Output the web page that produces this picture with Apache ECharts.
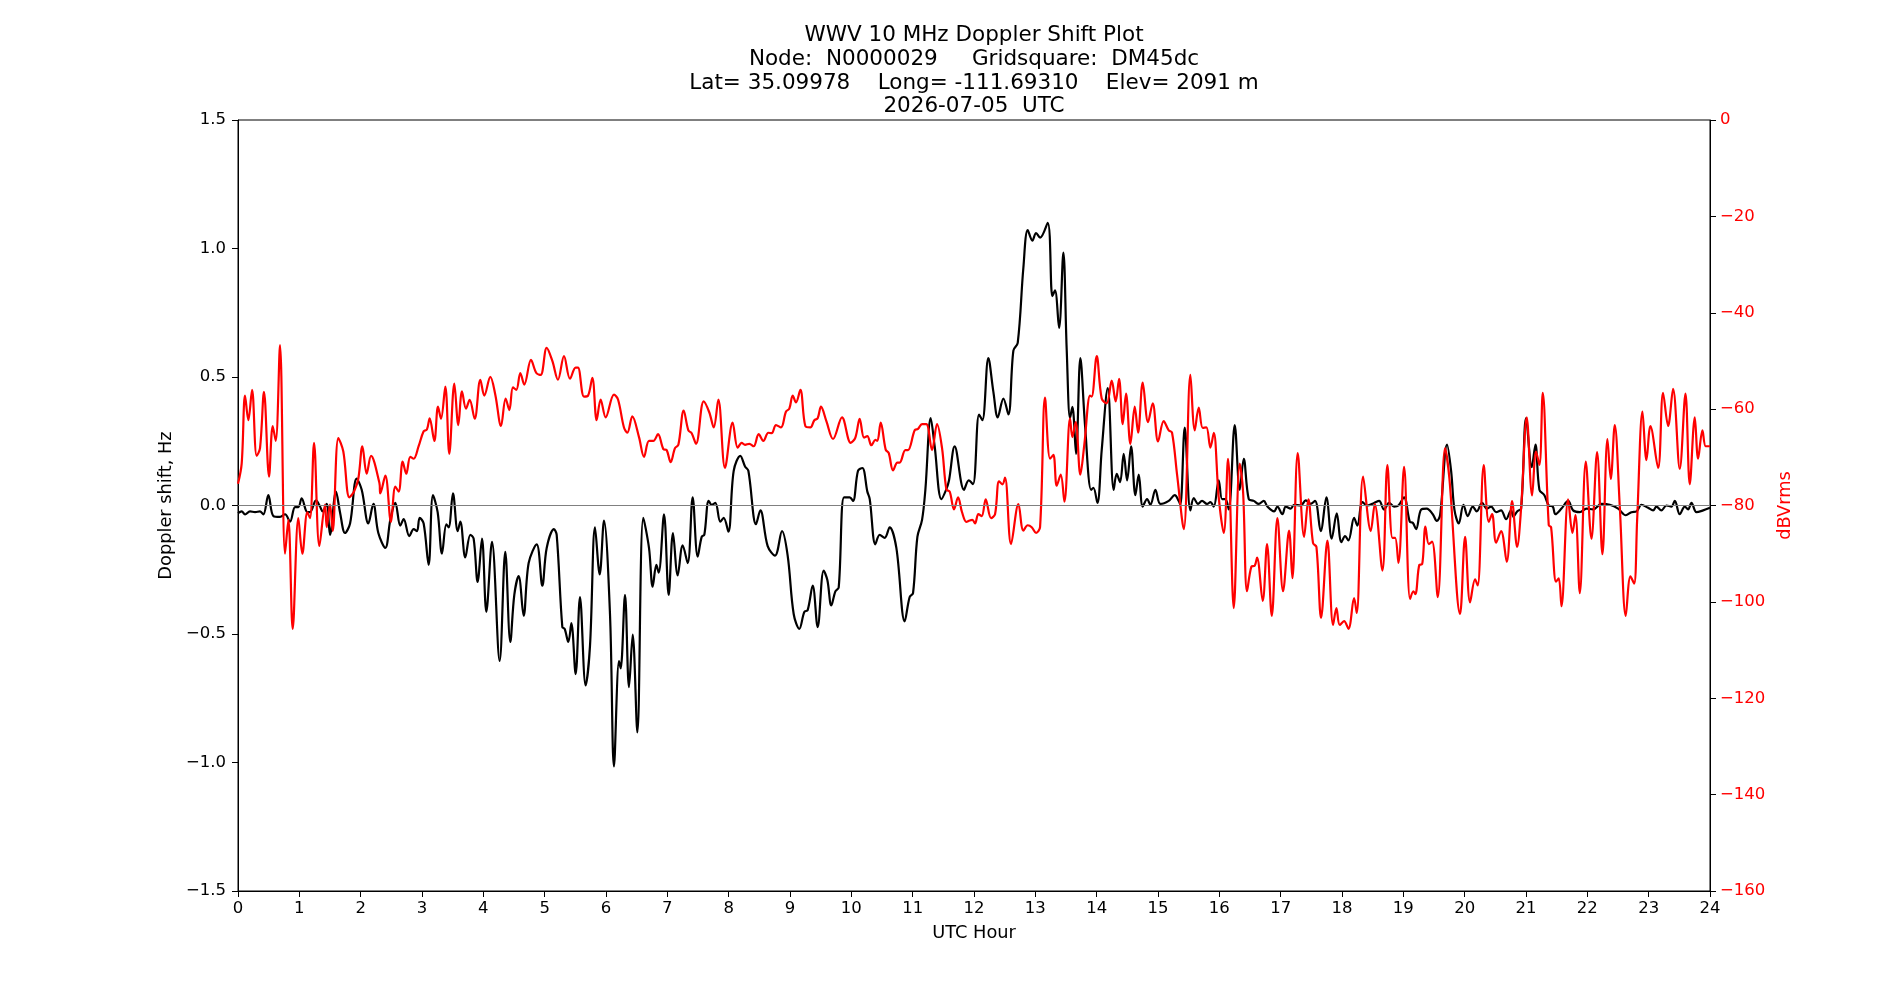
<!DOCTYPE html>
<html><head><meta charset="utf-8">
<script src="https://cdn.jsdelivr.net/npm/echarts@6/dist/echarts.min.js"></script>
<style>html,body{margin:0;padding:0;background:#fff}#c{width:1900px;height:1000px}</style>
</head><body><div id="c"></div>
<script>
const titleLines = ['WWV 10 MHz Doppler Shift Plot','Node:  N0000029     Gridsquare:  DM45dc','Lat= 35.09978    Long= -111.69310    Elev= 2091 m','2026-07-05  UTC'];

const dopplerHours = [0.0,0.06,0.115,0.196,0.278,0.359,0.413,0.495,0.577,0.685,0.767,0.848,0.93,0.984,1.038,1.131,1.174,1.272,1.337,1.38,1.446,1.50,1.598,1.663,1.745,1.827,1.935,2.017,2.125,2.207,2.288,
2.402,2.483,2.565,2.646,2.701,2.793,2.864,2.918,2.962,3.027,3.108,3.179,3.255,3.326,3.397,3.435,3.505,3.582,3.625,3.706,3.788,3.842,3.907,3.978,4.049,4.141,4.266,4.358,4.44,4.505,4.576,4.657,4.739,
4.87,4.962,5.033,5.152,5.196,5.288,5.326,5.386,5.435,5.505,5.576,5.668,5.739,5.821,5.897,5.967,6.065,6.13,6.212,6.239,6.31,6.375,6.435,6.511,6.608,6.701,6.761,6.821,6.859,6.946,7.022,7.092,
7.169,7.25,7.332,7.413,7.495,7.56,7.603,7.674,7.723,7.783,7.864,7.919,7.995,8.082,8.19,8.267,8.321,8.446,8.517,8.636,8.756,8.87,8.962,9.06,9.152,9.234,9.288,9.37,9.451,9.549,
9.609,9.674,9.74,9.794,9.881,9.973,10.028,10.109,10.18,10.261,10.3,10.392,10.462,10.544,10.625,10.734,10.87,10.951,11.006,11.077,11.153,11.207,11.294,11.359,11.468,11.55,11.593,11.685,11.837,11.914,11.984,
12.082,12.137,12.234,12.316,12.387,12.479,12.561,12.642,12.713,12.805,12.876,12.952,13.012,13.077,13.202,13.278,13.321,13.387,13.457,13.512,13.566,13.604,13.664,13.734,13.811,13.909,13.946,14.012,14.082,14.18,14.278,14.327,14.381,
14.441,14.496,14.561,14.631,14.686,14.751,14.822,14.876,14.958,15.039,15.175,15.273,15.338,15.365,15.436,15.528,15.583,15.653,15.718,15.8,15.854,15.909,15.99,16.045,16.099,16.153,16.251,16.333,16.398,16.479,16.561,16.642,16.724,
16.784,16.893,16.947,17.028,17.083,17.164,17.219,17.327,17.409,17.49,17.561,17.653,17.746,17.833,17.914,17.99,18.05,18.105,18.197,18.251,18.333,18.414,18.523,18.605,18.686,18.768,18.849,18.92,19.012,19.105,
19.154,19.208,19.29,19.382,19.48,19.545,19.599,19.713,19.779,19.833,19.904,19.98,20.05,20.132,20.197,20.284,20.36,20.431,20.512,20.594,20.675,20.757,20.795,20.855,20.92,21.002,21.094,21.154,21.219,21.3,21.371,21.436,21.48,
21.578,21.687,21.768,21.877,21.985,22.094,22.23,22.366,22.502,22.627,22.719,22.801,22.882,22.991,23.072,23.127,23.208,23.29,23.371,23.426,23.507,23.589,23.643,23.698,23.779,23.888,24.0];

const dopplerHz = [-0.03,-0.023,-0.035,-0.023,-0.026,-0.023,-0.035,0.040,-0.041,-0.044,-0.034,-0.063,-0.006,-0.006,0.028,-0.026,-0.026,0.020,-0.004,-0.023,0.006,-0.114,0.054,-0.026,-0.107,-0.070,0.105,0.061,-0.070,0.006,-0.107,
-0.165,-0.056,0.010,-0.078,-0.053,-0.119,-0.092,-0.10,-0.048,-0.070,-0.231,0.040,-0.026,-0.187,-0.073,-0.085,0.047,-0.10,-0.063,-0.202,-0.114,-0.129,-0.297,-0.129,-0.414,-0.141,-0.605,-0.180,-0.531,-0.348,-0.275,-0.429,-0.224,
-0.151,-0.312,-0.165,-0.092,-0.114,-0.473,-0.48,-0.531,-0.458,-0.656,-0.356,-0.70,-0.546,-0.085,-0.268,-0.059,-0.422,-1.015,-0.605,-0.634,-0.348,-0.707,-0.502,-0.883,-0.048,-0.165,-0.316,-0.231,-0.261,-0.034,-0.348,-0.107,
-0.272,-0.155,-0.224,0.032,-0.199,-0.122,-0.114,0.018,0.003,0.010,-0.063,-0.048,-0.102,0.135,0.193,0.152,0.135,-0.073,-0.019,-0.158,-0.195,-0.10,-0.195,-0.422,-0.48,-0.414,-0.407,-0.312,-0.473,-0.253,
-0.29,-0.389,-0.334,-0.319,0.032,0.032,0.018,0.135,0.146,0.054,0.025,-0.151,-0.114,-0.126,-0.085,-0.165,-0.451,-0.356,-0.341,-0.122,-0.056,0.061,0.340,0.230,0.025,0.064,0.098,0.230,0.061,0.098,0.083,
0.354,0.332,0.574,0.442,0.343,0.416,0.354,0.603,0.633,0.925,1.072,1.031,1.06,1.042,1.10,0.815,0.837,0.691,0.984,0.603,0.340,0.384,0.201,0.574,0.31,0.061,0.069,0.010,0.215,0.457,0.061,0.123,0.091,
0.201,0.098,0.230,0.040,0.12,-0.004,0.025,0.003,0.061,0.006,0.018,0.040,0.018,0.003,0.303,-0.019,0.029,0.006,0.018,0.006,0.013,-0.004,0.098,0.025,0.025,-0.015,0.313,0.061,0.182,0.025,0.018,0.006,0.018,
-0.004,-0.023,-0.004,-0.034,-0.004,-0.012,0.003,0,0.020,0.006,0.018,-0.10,0.032,-0.129,-0.031,-0.143,-0.119,-0.136,-0.048,-0.078,0.013,0,0.010,0.018,-0.016,0.010,-0.004,0,0.032,-0.063,
-0.067,-0.092,-0.016,-0.012,-0.034,-0.06,-0.038,0.237,0.135,-0.016,-0.070,0.003,-0.041,-0.004,-0.023,0.010,-0.012,-0.004,-0.026,-0.019,-0.053,-0.019,-0.044,-0.023,-0.012,0.340,0.149,0.237,0.061,0.040,0,-0.004,-0.034,
-0.012,0.018,-0.019,-0.026,-0.012,-0.015,0.006,0.003,-0.012,-0.038,-0.026,-0.023,0.003,-0.009,-0.019,-0.004,-0.019,0,-0.004,0.018,-0.034,-0.004,-0.015,0.010,-0.026,-0.019,-0.009];

const powerHours = [0.0,0.06,0.115,0.169,0.229,0.305,0.359,0.424,0.506,0.566,0.615,0.685,0.767,0.821,0.892,0.984,1.049,1.131,1.174,1.24,1.327,1.419,1.446,1.50,1.544,1.636,1.717,1.816,1.892,1.962,2.028,2.098,2.169,2.305,
2.32,2.402,2.494,2.565,2.619,2.685,2.744,2.809,2.864,2.945,3.027,3.081,3.125,3.201,3.261,3.31,3.38,3.445,3.527,3.592,3.652,3.717,3.777,3.859,3.951,4.016,4.114,4.195,4.288,4.364,4.424,4.483,4.538,4.603,4.668,4.777,
4.864,4.935,5.033,5.125,5.217,5.315,5.413,5.505,5.543,5.641,5.707,5.777,5.848,5.913,5.995,6.13,6.196,6.293,6.348,6.429,6.538,6.62,6.701,6.772,6.848,6.935,6.989,7.054,
7.125,7.18,7.267,7.343,7.397,7.468,7.593,7.685,7.756,7.832,7.94,8.065,8.147,8.212,8.267,8.337,8.408,8.489,8.565,8.647,8.701,8.772,8.853,8.935,8.989,9.044,9.098,9.169,9.25,9.332,9.397,9.451,9.505,
9.593,9.702,9.848,9.99,10.066,10.136,10.207,10.261,10.327,10.392,10.424,10.479,10.56,10.609,10.68,10.751,10.788,10.881,10.924,11.033,11.087,11.153,11.223,11.316,11.397,11.479,11.55,11.604,11.674,11.74,11.805,11.876,11.93,
11.974,12.017,12.071,12.126,12.191,12.278,12.343,12.408,12.463,12.506,12.604,12.724,12.805,12.876,12.941,13.012,13.077,13.158,13.24,13.294,13.349,13.414,13.474,13.566,13.604,13.658,13.734,13.8,13.892,13.919,14.001,14.082,14.164,14.245,14.31,14.365,
14.425,14.479,14.55,14.621,14.675,14.751,14.838,14.914,15.001,15.093,15.175,15.229,15.311,15.42,15.528,15.599,15.664,15.729,15.789,15.854,15.909,15.99,16.072,16.142,16.235,16.333,16.387,16.452,16.523,16.577,16.615,16.707,16.778,
16.855,16.947,17.039,17.137,17.191,17.278,17.382,17.452,17.528,17.583,17.659,17.762,17.855,17.909,17.963,18.034,18.105,18.197,18.24,18.344,18.469,18.534,18.659,18.74,18.822,18.866,18.92,19.012,
19.11,19.165,19.197,19.262,19.306,19.36,19.415,19.469,19.561,19.681,19.751,19.925,20.007,20.088,20.17,20.213,20.311,20.393,20.447,20.512,20.594,20.686,20.773,20.855,20.92,21.012,21.099,21.164,21.219,21.273,21.371,21.409,21.49,21.534,
21.578,21.687,21.757,21.806,21.877,21.975,22.067,22.159,22.246,22.328,22.382,22.447,22.529,22.627,22.703,22.763,22.812,22.899,22.964,23.029,23.154,23.235,23.317,23.398,23.507,23.6,23.67,23.752,23.806,23.877,23.931,24.0];

const powerDb = [-75.5,-71.3,-57.2,-62.3,-56.0,-69.7,-68.1,-56.4,-74.0,-63.5,-66.6,-46.7,-90.0,-83.0,-105.6,-82.6,-90.0,-81.4,-82.6,-67.0,-88.4,-79.8,-84.5,-79.8,-85.3,-66.0,-68.8,-78.3,-77.1,-74.4,-67.7,-73.4,-69.7,-75.3,
-77.5,-73.8,-83.4,-76.1,-77.1,-70.9,-73.4,-69.9,-70.3,-67.7,-64.6,-64.2,-61.9,-66.6,-59.5,-62.0,-55.3,-69.3,-54.7,-63.3,-56.3,-59.9,-58.1,-62.0,-53.9,-57.2,-53.3,-57.0,-63.5,-57.8,-60.2,-55.5,-56.0,-52.5,-54.9,-49.8,
-52.5,-52.9,-47.3,-50.0,-53.9,-49.0,-53.7,-51.4,-51.4,-57.4,-57.2,-53.5,-62.3,-58.0,-61.7,-57.0,-58.0,-63.8,-64.9,-61.5,-65.8,-69.9,-66.6,-66.6,-65.2,-68.3,-68.5,-71.0,
-68.1,-67.4,-60.3,-64.4,-65.0,-67.2,-58.4,-60.7,-63.8,-58.0,-72.2,-62.8,-68.0,-67.0,-67.4,-67.2,-67.7,-65.2,-66.6,-64.9,-65.0,-63.3,-63.8,-60.5,-59.9,-57.2,-58.6,-56.0,-63.5,-63.8,-62.3,-61.9,-59.5,
-62.5,-66.2,-61.7,-67.0,-65.9,-62.0,-65.9,-65.6,-67.5,-66.4,-66.6,-62.8,-68.4,-69.1,-72.7,-71.1,-71.1,-68.5,-68.5,-64.4,-64.1,-63.1,-63.1,-68.5,-63.1,-68.1,-76.7,-77.1,-80.8,-78.3,-81.4,-83.4,-83.1,
-83.0,-83.7,-81.8,-82.2,-78.7,-82.6,-81.8,-75.0,-75.6,-74.2,-88.0,-79.7,-85.2,-84.1,-84.5,-85.7,-84.5,-57.6,-70.3,-69.5,-75.9,-73.6,-79.2,-61.9,-65.8,-62.7,-73.6,-67.2,-57.2,-57.4,-49.0,-57.8,-58.8,-54.1,-58.4,-53.7,
-63.1,-56.8,-67.2,-59.5,-64.9,-54.5,-62.7,-58.8,-66.7,-62.5,-64.4,-64.9,-73.6,-84.9,-52.9,-64.4,-59.7,-63.9,-63.8,-68.0,-64.9,-78.3,-85.7,-70.3,-101.3,-71.3,-77.1,-97.8,-92.7,-92.5,-90.8,-99.8,-88.0,
-102.9,-82.6,-97.8,-85.2,-95.1,-69.1,-86.5,-78.7,-87.8,-88.6,-103.3,-87.3,-104.8,-101.3,-104.8,-104.0,-105.6,-99.2,-102.3,-74.0,-85.3,-79.7,-93.5,-71.6,-86.7,-86.7,-91.9,-72.0,
-99.4,-97.8,-98.4,-92.3,-92.2,-84.4,-88.0,-87.5,-99.0,-68.1,-74.4,-102.5,-86.5,-100.1,-95.3,-96.6,-71.6,-83.4,-81.8,-87.7,-85.3,-91.7,-79.1,-88.6,-80.6,-61.7,-77.9,-68.8,-71.6,-56.6,-84.1,-84.5,-95.8,-95.1,
-100.9,-78.7,-85.7,-82.0,-98.2,-70.9,-86.9,-68.9,-90.1,-66.2,-74.5,-63.3,-80.2,-102.9,-94.7,-96.2,-83.0,-60.5,-70.6,-63.5,-72.2,-56.6,-63.5,-55.8,-72.4,-56.8,-75.6,-61.7,-70.3,-64.4,-67.7,-67.7];

const FONT = 'DejaVu Sans';
const minusFmt = (v, d) => (v < 0 ? '\u2212' : '') + Math.abs(v).toFixed(d);
const zip = (xs, ys) => xs.map((x, i) => [x, ys[i]]);

const chart = echarts.init(document.getElementById('c'), null, {renderer: 'canvas'});
chart.setOption({
  animation: false,
  backgroundColor: '#ffffff',
  textStyle: {fontFamily: FONT},
  title: {
    text: titleLines.join('\n'),
    left: 974, top: 24, padding: 0, textAlign: 'center',
    textStyle: {fontFamily: FONT, fontSize: 21.5, fontWeight: 'normal', color: '#000', lineHeight: 23.6}
  },
  grid: {left: 238, right: 190, top: 120, bottom: 109, show: true, borderColor: '#000', borderWidth: 1, backgroundColor: 'transparent'},
  xAxis: {
    type: 'value', min: 0, max: 24, interval: 1,
    name: 'UTC Hour', nameLocation: 'middle', nameGap: 33,
    nameTextStyle: {fontFamily: FONT, fontSize: 17.8, color: '#000'},
    axisLine: {show: true, onZero: false, lineStyle: {color: '#000', width: 1}},
    axisTick: {show: true, length: 6, lineStyle: {color: '#000', width: 1}},
    axisLabel: {fontFamily: FONT, fontSize: 16.5, color: '#000', margin: 9},
    splitLine: {show: false}
  },
  yAxis: [{
    type: 'value', min: -1.5, max: 1.5, interval: 0.5, position: 'left',
    name: 'Doppler shift, Hz', nameLocation: 'middle', nameRotate: 90, nameGap: 60,
    nameTextStyle: {fontFamily: FONT, fontSize: 17.8, color: '#000'},
    axisLine: {show: true, onZero: false, lineStyle: {color: '#000', width: 1}},
    axisTick: {show: true, length: 6, lineStyle: {color: '#000', width: 1}},
    axisLabel: {fontFamily: FONT, fontSize: 16.5, color: '#000', margin: 12, formatter: v => minusFmt(v, 1)},
    splitLine: {show: false}
  }, {
    type: 'value', min: -160, max: 0, interval: 20, position: 'right',
    name: 'dBVrms', nameLocation: 'middle', nameRotate: 90, nameGap: 62,
    nameTextStyle: {fontFamily: FONT, fontSize: 17.8, color: '#ff0000'},
    axisLine: {show: true, onZero: false, lineStyle: {color: '#000', width: 1}},
    axisTick: {show: true, length: 6, lineStyle: {color: '#000', width: 1}},
    axisLabel: {fontFamily: FONT, fontSize: 16.5, color: '#ff0000', margin: 10, formatter: v => minusFmt(v, 0)},
    splitLine: {show: false}
  }],
  series: [{
    name: 'Doppler', type: 'line', yAxisIndex: 0, data: zip(dopplerHours, dopplerHz),
    showSymbol: false, smooth: 0.35, lineStyle: {color: '#000000', width: 2.2}, itemStyle: {color: '#000'},
    markLine: {silent: true, symbol: 'none', label: {show: false}, animation: false,
      lineStyle: {color: '#808080', width: 1.2, type: 'solid'}, data: [{yAxis: 0}]}
  }, {
    name: 'Power', type: 'line', yAxisIndex: 1, data: zip(powerHours, powerDb),
    showSymbol: false, smooth: 0.35, lineStyle: {color: '#ff0000', width: 2.2}, itemStyle: {color: '#f00'}
  }]
});
</script></body></html>
